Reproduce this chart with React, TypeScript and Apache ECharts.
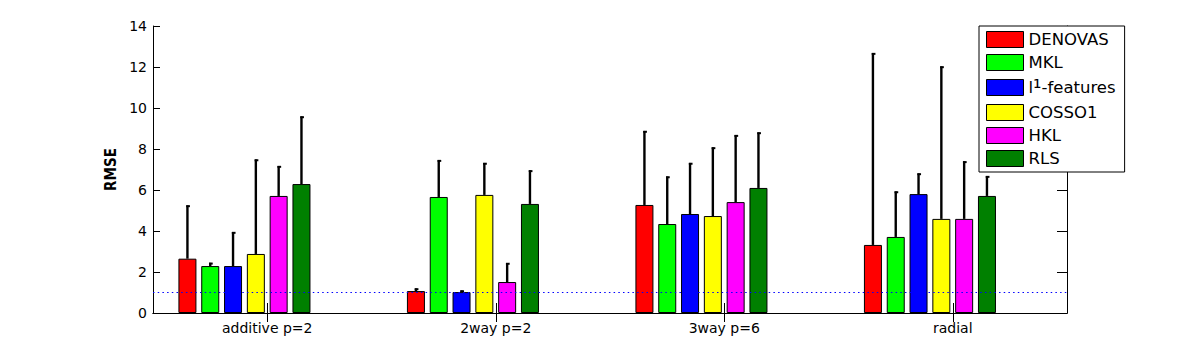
import React, { useEffect, useRef } from 'react';
import * as echarts from 'echarts';

const categories = ['additive p=2', '2way p=2', '3way p=6', 'radial'];
const methods = ['DENOVAS', 'MKL', 'l1-features', 'COSSO1', 'HKL', 'RLS'];
const colors = ['#ff0000', '#00ff00', '#0000ff', '#ffff00', '#ff00ff', '#008000'];

// mean RMSE per method (one value per category)
const denovasMean = [2.65, 1.07, 5.27, 3.32];
const mklMean = [2.29, 5.66, 4.34, 3.71];
const l1Mean = [2.29, 1.02, 4.83, 5.8];
const cossoMean = [2.88, 5.76, 4.73, 4.59];
const hklMean = [5.71, 1.51, 5.41, 4.59];
const rlsMean = [6.29, 5.32, 6.1, 5.71];

// upper error (standard deviation) per method
const denovasErr = [2.6, 0.13, 3.61, 9.36];
const mklErr = [0.16, 1.8, 2.32, 2.22];
const l1Err = [1.66, 0.08, 2.49, 1.01];
const cossoErr = [4.61, 1.56, 3.35, 7.44];
const hklErr = [1.46, 0.93, 3.27, 2.81];
const rlsErr = [3.3, 1.64, 2.71, 0.97];

const yTicks = [0, 2, 4, 6, 8, 10, 12, 14];
const referenceLevel = 1;

const means = [denovasMean, mklMean, l1Mean, cossoMean, hklMean, rlsMean];
const errs = [denovasErr, mklErr, l1Err, cossoErr, hklErr, rlsErr];

const BAR_W = 18;
const BAR_GAP = 0.267;
const STEP = BAR_W * (1 + BAR_GAP);
const N_SLOTS = 8;
const FONT = 'DejaVu Sans';

export default function App() {
  const ref = useRef<HTMLDivElement>(null);
  useEffect(() => {
    if (!ref.current) return;
    const chart = echarts.init(ref.current, null, { renderer: 'svg' });

    const barSeries: any[] = methods.map((name, i) => ({
      name,
      type: 'bar',
      data: means[i],
      barWidth: BAR_W,
      barGap: (BAR_GAP * 100).toFixed(1) + '%',
      itemStyle: { color: colors[i], borderColor: '#000', borderWidth: 1 },
      z: 2,
      ...(i === 0
        ? {
            markLine: {
              silent: true,
              symbol: 'none',
              label: { show: false },
              lineStyle: { color: '#0000ff', type: [1.5, 3.2], width: 1.2 },
              data: [{ yAxis: referenceLevel }],
              z: 5,
            },
          }
        : {}),
    }));
    // two empty slots so the visible group sits left of the tick, as in the original
    const padSeries = ['pad1', 'pad2'].map((name) => ({
      name,
      type: 'bar',
      data: categories.map(() => '-'),
      barWidth: BAR_W,
      barGap: (BAR_GAP * 100).toFixed(1) + '%',
    }));

    const errData: any[] = [];
    methods.forEach((_, m) => {
      categories.forEach((_, c) => {
        errData.push([c, means[m][c], errs[m][c], m]);
      });
    });

    const errSeries = {
      type: 'custom',
      z: 4,
      silent: true,
      data: errData,
      encode: { x: 0, y: 1 },
      renderItem: (params: any, api: any) => {
        const c = api.value(0);
        const mean = api.value(1);
        const err = api.value(2);
        const m = api.value(3);
        const base = api.coord([c, mean]);
        const top = api.coord([c, mean + err]);
        const x = base[0] + (m - (N_SLOTS - 1) / 2) * STEP;
        return {
          type: 'group',
          children: [
            { type: 'line', shape: { x1: x, y1: base[1], x2: x, y2: top[1] }, style: { stroke: '#000', lineWidth: 2.4 } },
            { type: 'line', shape: { x1: x - 1.2, y1: top[1] + 0.8, x2: x + 2.5, y2: top[1] + 0.8 }, style: { stroke: '#000', lineWidth: 2 } },
          ],
        };
      },
    };

    const axisLine = { show: true, lineStyle: { color: '#000', width: 1 } };
    const labelStyle = { fontFamily: FONT, fontSize: 14, color: '#000' };

    chart.setOption({
      animation: false,
      grid: { left: 153, right: 112, top: 26, bottom: 39, containLabel: false },
      xAxis: [
        {
          type: 'category',
          data: categories,
          position: 'bottom',
          axisLine,
          axisTick: { show: true, inside: true, length: 10, alignWithLabel: true, lineStyle: { color: '#000' } },
          axisLabel: { ...labelStyle, margin: 8 },
          splitLine: { show: false },
        },
        {
          type: 'category',
          data: categories,
          position: 'top',
          axisLine,
          axisTick: { show: true, inside: true, length: 9, alignWithLabel: true, lineStyle: { color: '#000' } },
          axisLabel: { show: false },
          splitLine: { show: false },
        },
      ],
      yAxis: [
        {
          type: 'value',
          min: yTicks[0],
          max: yTicks[yTicks.length - 1],
          interval: yTicks[1] - yTicks[0],
          position: 'left',
          name: 'RMSE',
          nameLocation: 'middle',
          nameGap: 27,
          nameTextStyle: {
            fontFamily: "'Liberation Sans Narrow', 'DejaVu Sans Condensed', 'Liberation Sans', sans-serif",
            fontSize: 15,
            fontWeight: 'bold',
            color: '#000',
          },
          axisLine,
          axisTick: { show: true, inside: true, length: 7, lineStyle: { color: '#000' } },
          axisLabel: { ...labelStyle, margin: 6 },
          splitLine: { show: false },
        },
        {
          type: 'value',
          min: yTicks[0],
          max: yTicks[yTicks.length - 1],
          interval: yTicks[1] - yTicks[0],
          position: 'right',
          axisLine,
          axisTick: { show: true, inside: true, length: 10, lineStyle: { color: '#000' } },
          axisLabel: { show: false },
          splitLine: { show: false },
        },
      ],
      legend: {
        data: methods,
        orient: 'vertical',
        left: 979,
        top: 26,
        itemWidth: 37,
        itemHeight: 16,
        itemGap: 6,
        padding: [5, 9, 5, 7],
        borderColor: '#000',
        borderWidth: 1,
        backgroundColor: '#fff',
        icon: 'rect',
        itemStyle: { borderColor: '#000', borderWidth: 1 },
        z: 10,
        selectedMode: false,
        formatter: (name: string) => (name === 'l1-features' ? '{n|l}{s|¹}{n|-features}' : name),
        textStyle: {
          fontFamily: FONT,
          fontSize: 16.5,
          lineHeight: 16,
          color: '#000',
          rich: {
            n: { fontFamily: FONT, fontSize: 16.5, color: '#000', lineHeight: 16 },
            s: { fontFamily: FONT, fontSize: 21, color: '#000', lineHeight: 16 },
          },
        },
      },
      series: [...barSeries, ...padSeries, errSeries],
    });
    return () => chart.dispose();
  }, []);
  return <div ref={ref} style={{ position: 'fixed', left: 0, top: 0, width: 1179, height: 352, background: '#fff' }} />;
}
